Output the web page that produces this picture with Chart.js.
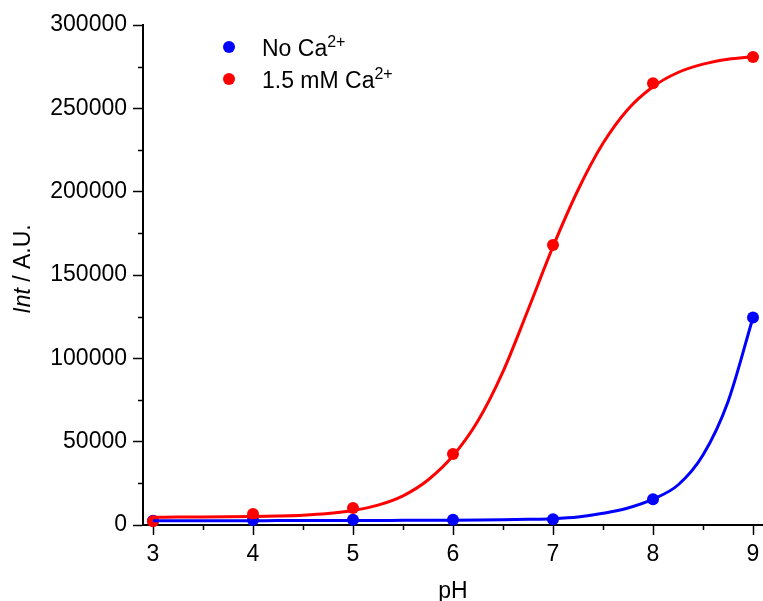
<!DOCTYPE html>
<html>
<head>
<meta charset="utf-8">
<script src="https://cdn.jsdelivr.net/npm/chart.js@4.4.1/dist/chart.umd.min.js"></script>
<style>
  html, body { margin: 0; padding: 0; background: #fff; }
  #wrap { width: 763px; height: 601px; }
</style>
</head>
<body>
<div id="wrap"><canvas id="c" width="763" height="601"></canvas></div>
<script>
// Measured intensities at each pH
const phPoints = [3, 4, 5, 6, 7, 8, 9];
const noCaPoints = [2500, 3000, 3200, 3200, 3500, 15500, 124500];
const caPoints = [2200, 6600, 10200, 42600, 168000, 265000, 280800];

// Sigmoidal fit curves, sampled every 0.25 pH
const phFit = [3, 3.25, 3.5, 3.75, 4, 4.25, 4.5, 4.75, 5, 5.25, 5.5, 5.75, 6,
               6.25, 6.5, 6.75, 7, 7.25, 7.5, 7.75, 8, 8.25, 8.5, 8.75, 9];
const noCaFit = [2600, 2600, 2600, 2600, 2600, 2650, 2650, 2700, 2700, 2750, 2800, 2850, 2900,
                 3000, 3150, 3400, 3800, 4800, 7000, 10200, 15500, 24000, 42000, 74000, 124500];
const caFit = [4700, 4750, 4800, 4900, 5100, 5400, 5900, 6900, 8700, 11900, 17500, 27000, 41500,
               62500, 92000, 129000, 167000, 201000, 229000, 249500, 263000, 271500, 276500, 279500, 281000];

// Axis ticks
const xMajorTicks = [3, 4, 5, 6, 7, 8, 9];
const xMinorTicks = [3.5, 4.5, 5.5, 6.5, 7.5, 8.5];
const yMajorTicks = [0, 50000, 100000, 150000, 200000, 250000, 300000];
const yMinorTicks = [25000, 75000, 125000, 175000, 225000, 275000];

const seriesNames = ['No Ca', '1.5 mM Ca'];
const seriesColors = ['#0000ff', '#ff0000'];

const FONT = '"Liberation Sans", Arial, sans-serif';
const FS = 23;

const pairs = (xs, ys) => xs.map((x, i) => ({ x: x, y: ys[i] }));

// Short minor ticks, legend with superscripts and the mixed-style y title
const decorations = {
  id: 'decorations',
  afterDraw(chart) {
    const ctx = chart.ctx;
    const xs = chart.scales.x, ys = chart.scales.y;
    const area = chart.chartArea;
    ctx.save();
    ctx.strokeStyle = '#000';
    ctx.lineWidth = 1.5;
    ctx.beginPath();
    xMinorTicks.forEach(v => {
      const px = Math.round(xs.getPixelForValue(v)) + 0.5;
      ctx.moveTo(px, area.bottom);
      ctx.lineTo(px, area.bottom + 5);
    });
    yMinorTicks.forEach(v => {
      const py = Math.round(ys.getPixelForValue(v)) + 0.5;
      ctx.moveTo(area.left, py);
      ctx.lineTo(area.left - 5, py);
    });
    ctx.stroke();

    // y axis title: "Int" in italics followed by " / A.U."
    ctx.fillStyle = '#000';
    ctx.textBaseline = 'middle';
    ctx.translate(24, (area.top + area.bottom) / 2 - 6);
    ctx.rotate(-Math.PI / 2);
    ctx.font = 'italic ' + FS + 'px ' + FONT;
    const a = 'Int';
    const wa = ctx.measureText(a).width;
    ctx.font = FS + 'px ' + FONT;
    const b = ' / A.U.';
    const wb = ctx.measureText(b).width;
    let sx = -(wa + wb) / 2;
    ctx.font = 'italic ' + FS + 'px ' + FONT;
    ctx.fillText(a, sx, 0);
    ctx.font = FS + 'px ' + FONT;
    ctx.fillText(b, sx + wa, 0);
    ctx.restore();

    // legend
    ctx.save();
    const rows = [47, 79];
    rows.forEach((cy, i) => {
      ctx.fillStyle = seriesColors[i];
      ctx.beginPath();
      ctx.arc(229, cy, 6, 0, Math.PI * 2);
      ctx.fill();
      ctx.fillStyle = '#000';
      ctx.textBaseline = 'alphabetic';
      ctx.font = FS + 'px ' + FONT;
      const base = cy + 9;
      ctx.fillText(seriesNames[i], 262, base);
      const w = ctx.measureText(seriesNames[i]).width;
      ctx.font = Math.round(FS * 0.68) + 'px ' + FONT;
      ctx.fillText('2+', 262 + w, base - 9);
    });
    ctx.restore();
  }
};

new Chart(document.getElementById('c'), {
  data: {
    datasets: [
      { type: 'line', label: 'No Ca fit', data: pairs(phFit, noCaFit), borderColor: seriesColors[0],
        borderWidth: 3, pointRadius: 0, fill: false, cubicInterpolationMode: 'monotone', order: 1, clip: false },
      { type: 'line', label: '1.5 mM Ca fit', data: pairs(phFit, caFit), borderColor: seriesColors[1],
        borderWidth: 3, pointRadius: 0, fill: false, cubicInterpolationMode: 'monotone', order: 2, clip: false },
      { type: 'scatter', label: '1.5 mM Ca', data: pairs(phPoints, caPoints), backgroundColor: seriesColors[1],
        borderWidth: 0, pointRadius: 6, order: 3, clip: false },
      { type: 'scatter', label: 'No Ca', data: pairs(phPoints, noCaPoints), backgroundColor: seriesColors[0],
        borderWidth: 0, pointRadius: 6, order: 4, clip: false }
    ]
  },
  options: {
    responsive: false,
    devicePixelRatio: 1,
    animation: false,
    layout: { autoPadding: false, padding: { top: 25, right: 0, left: 0, bottom: 0 } },
    plugins: { legend: { display: false }, tooltip: { enabled: false } },
    scales: {
      x: {
        type: 'linear', position: 'bottom', min: 2.9, max: 9.1,
        afterBuildTicks: s => { s.ticks = xMajorTicks.map(v => ({ value: v })); },
        afterFit: s => { s.height = 76; s.paddingRight = 0; s.paddingLeft = 0; },
        ticks: { color: '#000', font: { family: FONT, size: FS }, padding: 6, maxRotation: 0,
                 callback: v => String(v) },
        grid: { display: true, drawOnChartArea: false, drawTicks: true, tickLength: 10,
                tickWidth: 1.5, tickColor: '#000' },
        border: { display: true, color: '#000', width: 2 },
        title: { display: true, text: 'pH', color: '#000', font: { family: FONT, size: FS },
                 padding: { top: 4, bottom: -4 } }
      },
      y: {
        type: 'linear', min: 0, max: 300000,
        afterBuildTicks: s => { s.ticks = yMajorTicks.map(v => ({ value: v })); },
        afterFit: s => { s.width = 143; s.paddingTop = 0; s.paddingBottom = 0; },
        ticks: { color: '#000', font: { family: FONT, size: FS }, padding: 6,
                 callback: v => String(v) },
        grid: { display: true, drawOnChartArea: false, drawTicks: true, tickLength: 10,
                tickWidth: 1.5, tickColor: '#000' },
        border: { display: true, color: '#000', width: 2 }
      }
    }
  },
  plugins: [decorations]
});
</script>
</body>
</html>
